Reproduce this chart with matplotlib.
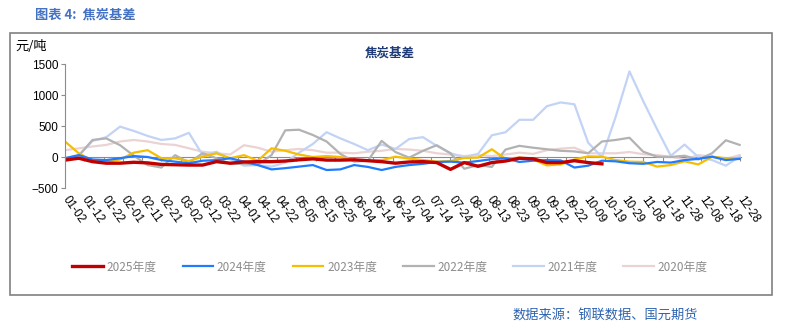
import numpy as np
import matplotlib
matplotlib.use('Agg')
import matplotlib.pyplot as plt
from matplotlib.patches import Rectangle

plt.rcParams['font.family'] = ['Liberation Sans', 'Noto Sans CJK SC', 'DejaVu Sans']
plt.rcParams['axes.unicode_minus'] = True

# 交易日序号（每5个交易日取一个点）
idx = np.arange(0, 246, 5)

date_labels = ['01-02', '01-12', '01-22', '02-01', '02-11', '02-21', '03-02', '03-12',
               '03-22', '04-01', '04-12', '04-22', '05-05', '05-15', '05-25', '06-04',
               '06-14', '06-24', '07-04', '07-14', '07-24', '08-03', '08-13', '08-23',
               '09-02', '09-12', '09-22', '10-09', '10-19', '10-29', '11-08', '11-18',
               '11-28', '12-08', '12-18', '12-28']

basis_2025 = [-50, -20, -75, -100, -100, -85, -95, -120, -125, -130,
              -130, -75, -100, -80, -75, -75, -65, -45, -30, -50,
              -50, -45, -60, -75, -100, -80, -75, -90, -200, -90,
              -150, -90, -65, -20, -30, -90, -90, -60, -90, -110]
basis_2024 = [-20, 30, -40, -50, -20, 15, 0, -50, -75, -100,
              -60, -50, -20, -75, -130, -200, -180, -155, -130, -210,
              -200, -130, -160, -210, -160, -130, -110, -80, -75, -90,
              -65, -35, -20, -80, -60, -50, -55, -170, -140, -60,
              -70, -100, -110, -80, -90, -50, -30, 5, -50, -30]
basis_2023 = [250, 60, -60, -75, -40, 70, 110, -20, -20, -65,
              5, 60, -20, 30, -60, 140, 100, 40, 0, 15,
              0, -55, -60, -50, 5, -25, -50, -75, -65, -15,
              -10, 125, -30, -10, -40, -135, -120, -40, 10, 5,
              -50, -75, -80, -155, -130, -70, -120, 5, -20, -20]
basis_2022 = [-20, 20, 275, 300, 190, 20, -130, -170, 30, -90,
              60, -20, -110, -110, -120, 30, 430, 440, 355, 250,
              50, -75, -60, 260, 80, -10, 100, 190, 60, -190,
              -130, -160, 120, 180, 150, 125, 100, 90, 60, 250,
              275, 310, 85, 5, 0, 20, -40, 60, 270, 195]
basis_2021 = [-20, 30, 260, 320, 490, 420, 340, 275, 300, 390,
              30, 85, -40, -140, -130, -155, -90, 70, 210, 400,
              300, 210, 110, 200, 130, 290, 320, 180, 60, 0,
              50, 350, 400, 600, 600, 820, 880, 850, 230, 0,
              650, 1380, 900, 450, 20, 200, 0, -50, -140, 10]
basis_2020 = [110, 140, 170, 195, 250, 275, 250, 210, 195, 140,
              85, 60, 40, 190, 150, 85, 110, 130, 110, 70,
              70, 60, 85, 100, 130, 120, 100, 60, 40, 15,
              30, 15, 40, 70, 50, 110, 135, 150, 60, 60,
              60, 80, 45, 30, 5, -40, 30, 5, -30, 30]

series = [
    ('2025年度', basis_2025, '#C00000', 2.4),
    ('2024年度', basis_2024, '#1F7BFF', 1.6),
    ('2023年度', basis_2023, '#F5BE00', 1.6),
    ('2022年度', basis_2022, '#B2B2B2', 1.6),
    ('2021年度', basis_2021, '#C2D3F5', 1.6),
    ('2020年度', basis_2020, '#EBD3D3', 1.6),
]

W, H = 788, 333
fig = plt.figure(figsize=(W / 100, H / 100), dpi=100)
ax = fig.add_axes([65 / W, 1 - 188 / H, 676 / W, 124 / H])

gray = '#8C8C8C'
cjk = ['Noto Sans CJK SC', 'DejaVu Sans']

# 外框
fig.patches.append(Rectangle((10 / W, 1 - 295 / H), 762 / W, 262 / H,
                             transform=fig.transFigure, fill=False,
                             edgecolor='#808080', lw=1.2))

handles = {}
for name, vals, color, lw in reversed(series):
    h, = ax.plot(idx[:len(vals)], vals, color=color, lw=lw, label=name,
                 solid_joinstyle='round')
    handles[name] = h

ax.set_xlim(0, 245.5)
ax.set_ylim(-500, 1500)
ax.set_yticks([-500, 0, 500, 1000, 1500])
ax.tick_params(axis='y', direction='out', length=3, color=gray, labelsize=8.5, pad=2)

tick_pos = np.arange(len(date_labels)) * 7
ax.set_xticks(tick_pos, date_labels)
ax.tick_params(axis='x', length=0, labelsize=8.5, pad=7)
for lab in ax.get_xticklabels():
    lab.set_rotation(-55)
    lab.set_ha('left')
    lab.set_va('center')
    lab.set_rotation_mode('anchor')

for s in ['top', 'right', 'bottom']:
    ax.spines[s].set_visible(False)
ax.spines['left'].set_color(gray)

# 零轴及刻度
zero_ax = ax.secondary_xaxis(0.25)
zero_ax.set_xticks(tick_pos, [])
zero_ax.tick_params(direction='out', length=3, color=gray)
zero_ax.spines['bottom'].set_color(gray)

fig.text(35 / W, 1 - 15 / H, '图表 4:  焦炭基差', color='#4472C4', fontsize=9.5,
         fontweight='bold', va='center', family=cjk)
fig.text(15 / W, 1 - 47 / H, '元/吨', fontsize=9.5, va='center', family=cjk)
fig.text(390 / W, 1 - 53 / H, '焦炭基差', color='#1F3C78', fontsize=9,
         fontweight='bold', ha='center', va='center', family=cjk)
fig.text(512 / W, 1 - 316 / H, '数据来源：钢联数据、国元期货', color='#2E64B0',
         fontsize=9.5, va='center', family=cjk)

leg = fig.legend([handles[n] for n, *_ in series], [n for n, *_ in series],
                 loc='center', bbox_to_anchor=(390 / W, 1 - 267 / H), ncol=6,
                 frameon=False, handlelength=2.6, columnspacing=2.2,
                 handletextpad=0.3, prop={'family': cjk, 'size': 8.5})
for t in leg.get_texts():
    t.set_color('#8C8C8C')

fig.savefig('out.png', dpi=100)
